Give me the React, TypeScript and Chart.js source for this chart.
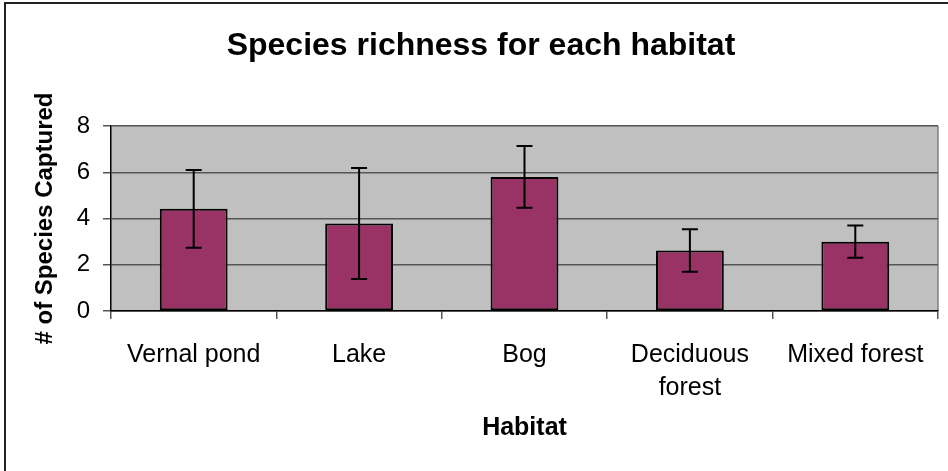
import React, { useEffect, useRef } from 'react';
import { Chart, registerables } from 'chart.js';

Chart.register(...registerables);

const categories: string[][] = [['Vernal pond'], ['Lake'], ['Bog'], ['Deciduous', 'forest'], ['Mixed forest']];
const meanRichness: number[] = [4.42, 3.78, 5.8, 2.62, 3.0];
const errorSize: number[] = [1.68, 2.4, 1.34, 0.92, 0.7];
const yMin = 0;
const yMax = 8;
const yStep = 2;

const FONT = "'Liberation Sans', Arial, Helvetica, sans-serif";

const plotAreaPlugin = {
  id: 'plotArea',
  beforeDraw(chart: any) {
    const { ctx, chartArea } = chart;
    const { left, top, right, bottom } = chartArea;
    ctx.save();
    ctx.fillStyle = '#C0C0C0';
    ctx.fillRect(left, top, right - left, bottom - top);
    ctx.strokeStyle = '#808080';
    ctx.lineWidth = 1.5;
    ctx.beginPath();
    ctx.moveTo(right, top);
    ctx.lineTo(right, bottom);
    ctx.stroke();
    ctx.restore();
  },
  afterDraw(chart: any) {
    const { ctx, width, height } = chart;
    ctx.save();
    ctx.strokeStyle = '#222';
    ctx.lineWidth = 2;
    ctx.beginPath();
    ctx.moveTo(5, height);
    ctx.lineTo(5, 3);
    ctx.lineTo(width, 3);
    ctx.stroke();
    ctx.restore();
  },
};

const errorBarPlugin = {
  id: 'errorBars',
  afterDatasetsDraw(chart: any) {
    const meta = chart.getDatasetMeta(0);
    const yScale = chart.scales.y;
    const ctx = chart.ctx;
    ctx.save();
    ctx.strokeStyle = '#000';
    ctx.lineWidth = 2;
    meta.data.forEach((bar: any, i: number) => {
      const v = meanRichness[i];
      const e = errorSize[i];
      const yt = yScale.getPixelForValue(v + e);
      const yb = yScale.getPixelForValue(v - e);
      const x = bar.x;
      const cap = 8;
      ctx.beginPath();
      ctx.moveTo(x, yt);
      ctx.lineTo(x, yb);
      ctx.moveTo(x - cap, yt);
      ctx.lineTo(x + cap, yt);
      ctx.moveTo(x - cap, yb);
      ctx.lineTo(x + cap, yb);
      ctx.stroke();
    });
    ctx.restore();
  },
};

export default function App() {
  const canvasRef = useRef<HTMLCanvasElement | null>(null);

  useEffect(() => {
    if (!canvasRef.current) return;
    Chart.defaults.font.family = FONT;
    const chart = new Chart(canvasRef.current, {
      type: 'bar',
      data: {
        labels: categories,
        datasets: [
          {
            data: meanRichness,
            backgroundColor: '#993366',
            borderColor: '#000000',
            borderWidth: 2,
            borderSkipped: false,
            categoryPercentage: 1,
            barPercentage: 0.41,
          },
        ],
      },
      options: {
        responsive: false,
        animation: false,
        devicePixelRatio: 1,
        layout: { padding: { left: 24, right: 10, top: 0, bottom: 0 } },
        plugins: {
          legend: { display: false },
          tooltip: { enabled: false },
          title: {
            display: true,
            text: 'Species richness for each habitat',
            color: '#000',
            font: { family: FONT, size: 32, weight: 'bold', lineHeight: 1.2 },
            padding: { top: 26.8, bottom: 60.8 },
          },
        },
        scales: {
          x: {
            type: 'category',
            offset: true,
            grid: {
              offset: true,
              drawOnChartArea: false,
              drawTicks: true,
              tickLength: 8,
              color: '#555',
              lineWidth: 1.5,
            },
            border: { display: true, color: '#000', width: 1.5 },
            ticks: {
              color: '#000',
              font: { family: FONT, size: 25, lineHeight: 1.34 },
              padding: 19,
              maxRotation: 0,
              minRotation: 0,
              autoSkip: false,
            },
            title: {
              display: true,
              text: 'Habitat',
              color: '#000',
              font: { family: FONT, size: 25, weight: 'bold', lineHeight: 1.2 },
              padding: { top: 0, bottom: 27.5 },
            },
            afterFit: (s: any) => {
              s.height = 160;
            },
          },
          y: {
            min: yMin,
            max: yMax,
            ticks: {
              stepSize: yStep,
              color: '#000',
              font: { family: FONT, size: 24 },
              padding: 13,
            },
            grid: {
              color: '#555',
              lineWidth: 1.5,
              tickLength: 8,
            },
            border: { display: true, color: '#000', width: 1.5 },
            title: {
              display: true,
              text: '# of Species Captured',
              color: '#000',
              font: { family: FONT, size: 24, weight: 'bold', lineHeight: 1.2 },
              padding: { top: 7.2, bottom: 0 },
            },
            afterFit: (s: any) => {
              s.width = 87;
            },
          },
        },
      },
      plugins: [plotAreaPlugin, errorBarPlugin],
    });
    return () => chart.destroy();
  }, []);

  return (
    <div style={{ position: 'fixed', left: 0, top: 0, width: 948, height: 471, background: '#fff' }}>
      <canvas ref={canvasRef} width={948} height={471} style={{ display: 'block' }} />
    </div>
  );
}
